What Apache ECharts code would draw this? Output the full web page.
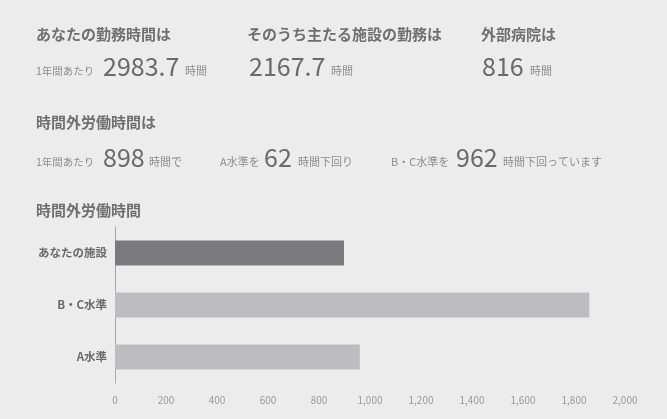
<!DOCTYPE html>
<html>
<head>
<meta charset="utf-8">
<script src="https://cdn.jsdelivr.net/npm/echarts@6/dist/echarts.min.js"></script>
<style>
  html, body { margin: 0; padding: 0; background: #ececec; }
  #chart { width: 667px; height: 419px; }
</style>
</head>
<body>
<div id="chart"></div>
<script>
// Annual working hours (total / main facility / external hospital)
const workHours = [2983.7, 2167.7, 816];
// Overtime bars, top to bottom
const categories = ['あなたの施設', 'B・C水準', 'A水準'];
const overtimeValues = [898, 1860, 960];
// Horizontal axis ticks
const axisMin = 0;
const axisMax = 2000;
const axisStep = 200;

const FONT = '"Noto Sans CJK JP", "Noto Sans", sans-serif';
const own = overtimeValues[0];
const belowB = overtimeValues[1] - own;
const belowA = overtimeValues[2] - own;

function txt(text, x, y, size, color, weight) {
  return {
    type: 'text', x: x, y: y, silent: true,
    style: {
      text: text, fill: color, font: (weight || 'normal') + ' ' + size + 'px ' + FONT,
      align: 'left', verticalAlign: 'middle'
    }
  };
}

const HEAD = '#6f6f6f', BIG = '#6a6a6a', SMALL = '#8c8c8c';

const chart = echarts.init(document.getElementById('chart'));
chart.setOption({
  backgroundColor: '#ececec',
  animation: false,
  textStyle: { fontFamily: FONT },
  graphic: [
    txt('あなたの勤務時間は', 36, 34, 15, HEAD, 'bold'),
    txt('そのうち主たる施設の勤務は', 247, 34, 15, HEAD, 'bold'),
    txt('外部病院は', 481, 34, 15, HEAD, 'bold'),

    txt('1年間あたり', 36, 71, 10.5, SMALL),
    txt(String(workHours[0]), 103, 66, 25, BIG),
    txt('時間', 185, 71, 11, SMALL),
    txt(String(workHours[1]), 249, 66, 25, BIG),
    txt('時間', 331, 71, 11, SMALL),
    txt(String(workHours[2]), 482, 66, 25, BIG),
    txt('時間', 530, 71, 11, SMALL),

    txt('時間外労働時間は', 36, 122, 15, HEAD, 'bold'),

    txt('1年間あたり', 36, 162, 10.5, SMALL),
    txt(String(own), 103, 157, 25, BIG),
    txt('時間で', 149, 162, 11, SMALL),
    txt('A水準を', 220, 162, 11, SMALL),
    txt(String(belowA), 264, 157, 25, BIG),
    txt('時間下回り', 298, 162, 11, SMALL),
    txt('B・C水準を', 391, 162, 11, SMALL),
    txt(String(belowB), 456, 157, 25, BIG),
    txt('時間下回っています', 503, 162, 11, SMALL),

    txt('時間外労働時間', 36, 210, 15, HEAD, 'bold')
  ],
  grid: { left: 115, right: 42, top: 227, bottom: 36 },
  xAxis: {
    type: 'value', min: axisMin, max: axisMax, interval: axisStep,
    axisLine: { show: false }, axisTick: { show: false }, splitLine: { show: false },
    axisLabel: {
      color: '#9a9a9a', fontSize: 10, margin: 12,
      formatter: v => v.toLocaleString('en-US')
    }
  },
  yAxis: {
    type: 'category', data: categories, inverse: true,
    axisLine: { show: true, lineStyle: { color: '#a8a8a8', width: 1 } },
    axisTick: { show: false },
    axisLabel: { color: '#6a6a6a', fontSize: 11.5, fontWeight: 'bold', margin: 8 }
  },
  series: [{
    type: 'bar',
    barWidth: '48%',
    data: overtimeValues.map((v, i) => ({
      value: v,
      itemStyle: { color: i === 0 ? '#7a7a7c' : '#bdbdbf' }
    }))
  }]
});
</script>
</body>
</html>
